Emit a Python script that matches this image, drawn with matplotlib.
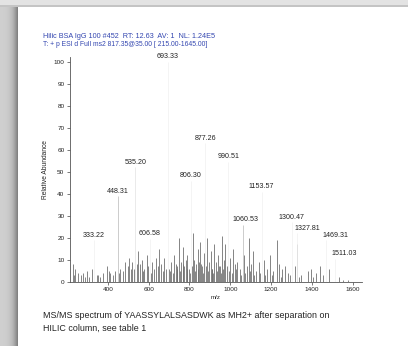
import numpy as np
import matplotlib
matplotlib.use("Agg")
import matplotlib.pyplot as plt

plt.rcParams['font.family'] = ['Liberation Sans', 'DejaVu Sans']

# labelled peaks (m/z, relative abundance)
label_mz = [333.22, 448.31, 535.20, 606.58, 693.33, 806.30, 877.26, 990.51,
            1060.53, 1153.57, 1300.47, 1327.81, 1469.31, 1511.03]
label_int = [19, 39, 52, 19.5, 100, 46, 63, 54.5, 26, 41, 27, 22, 19, 10.5]

# smaller fragment peaks
noise_mz = [228, 241, 256, 268, 280, 297, 310, 322, 345, 362, 378, 396, 412,
            425, 436, 462, 475, 486, 497, 505, 518, 527, 548, 556, 566, 578,
            590, 597, 617, 628, 638, 650, 662, 675, 684, 703, 712, 724, 733,
            741, 748, 757, 766, 774, 782, 790, 798, 815, 823, 831, 840, 848,
            852, 860, 870, 888, 896, 904, 912, 920, 930, 940, 948, 960, 968,
            975, 982, 1000, 1012, 1022, 1035, 1046, 1068, 1080, 1090, 1102,
            1112, 1125, 1140, 1165, 1180, 1195, 1210, 1228, 1240, 1255, 1270,
            1283, 1315, 1327, 1345, 1380, 1395, 1420, 1440, 1485, 1530, 1575,
            235, 289, 352, 404, 455, 512, 541, 572, 611, 645, 668, 698, 718,
            737, 752, 770, 786, 802, 811, 827, 844, 856, 865, 883, 892, 908,
            916, 935, 944, 955, 964, 995, 1006, 1028, 1052, 1074, 1096, 1118,
            1147, 1172, 1204, 1248, 1292, 1336, 1405, 1452, 1550]
noise_int = [8, 6, 4, 3, 4, 5, 2, 6, 3, 2, 4, 7, 4,
             3, 5, 6, 5, 9, 7, 11, 9, 6, 14, 8, 10, 6,
             12, 7, 9, 6, 11, 15, 8, 11, 6, 5, 9, 12, 8,
             6, 20, 9, 16, 7, 10, 12, 6, 22, 10, 8, 15, 9,
             18, 7, 13, 20, 9, 14, 6, 17, 9, 12, 7, 21, 10,
             17, 7, 11, 15, 8, 9, 6, 12, 7, 20, 8,
             14, 5, 9, 10, 6, 12, 5, 19, 8, 6, 7,
             4, 7, 17, 3, 5, 6, 4, 7, 6, 2, 1,
             3, 2, 3, 5, 4, 6, 8, 5, 4, 7, 5, 6, 4,
             7, 5, 8, 6, 4, 7, 5, 6, 8, 4, 7, 5, 6,
             4, 5, 7, 4, 6, 5, 4, 6, 3, 4, 5, 3,
             4, 3, 3, 2, 3, 2, 2, 3, 1]

header1 = "Hilic BSA IgG 100 #452  RT: 12.63  AV: 1  NL: 1.24E5"
header2 = "T: + p ESI d Full ms2 817.35@35.00 [ 215.00-1645.00]"
caption = ("MS/MS spectrum of YAASSYLALSASDWK as MH2+ after separation on\n"
           "HILIC column, see table 1")

W, H = 408, 346
fig = plt.figure(figsize=(W / 100, H / 100), dpi=100)
fig.patch.set_facecolor('#dedede')

# page background and shadow
bg = fig.add_axes([0, 0, 1, 1], zorder=-5)
bg.set_xlim(0, W)
bg.set_ylim(H, 0)
bg.axis('off')
grad = np.linspace(0, 1, 64)[None, :] ** 3
bg.imshow(grad, extent=(0, 18, H, 0), cmap='Greys', vmin=-1.0, vmax=2.4,
          aspect='auto', interpolation='bilinear')
bg.add_patch(plt.Rectangle((0, 0), W, 5, color='#e3e3e3', lw=0))
bg.add_patch(plt.Rectangle((0, 5), W, 2, color='#c4c4c4', lw=0))
bg.add_patch(plt.Rectangle((18, 7), W - 18, H - 7, color='white', lw=0))

ax = fig.add_axes([70 / W, (H - 281.7) / H, 292 / W, 224.4 / H])
ax.set_facecolor('none')
ax.vlines(noise_mz, 0, noise_int, color='#707070', lw=0.6)
# most of the big peaks are washed out in the reference
faint = {448.31: '#c4c4c4', 1060.53: '#c4c4c4', 535.20: '#e6e6e6'}
ax.vlines(label_mz, 0, label_int, lw=0.6,
          colors=[faint.get(m, '#f3f3f3') for m in label_mz])

dx = {1060.53: 2, 1327.81: 7, 1469.31: 7, 1511.03: 7}
for m, v in zip(label_mz, label_int):
    ax.annotate(f"{m:.2f}", (m, v), xytext=(dx.get(m, 0), 1.0),
                textcoords='offset points', ha='center', va='bottom',
                fontsize=5.1, color='#222222')

ax.set_xlim(215, 1645)
ax.set_ylim(0, 102)
ax.set_xticks([400, 600, 800, 1000, 1200, 1400, 1600])
ax.set_yticks(range(0, 101, 10))
ax.tick_params(labelsize=4.6, length=2, width=0.5, pad=2, colors='#444444',
               labelcolor='#222222')
for s in ['top', 'right']:
    ax.spines[s].set_visible(False)
for s in ['left', 'bottom']:
    ax.spines[s].set_linewidth(0.6)
    ax.spines[s].set_color('#555555')
ax.set_xlabel('m/z', fontsize=4.4, labelpad=2, color='#222222')
ax.set_ylabel('Relative Abundance', fontsize=4.8, labelpad=3, color='#222222')

fig.text(43 / W, 1 - 36 / H, header1, fontsize=5.2, color='#3346b0',
         va='center', ha='left')
fig.text(43 / W, 1 - 44 / H, header2, fontsize=4.9, color='#3346b0',
         va='center', ha='left')
fig.text(43 / W, 1 - 322 / H, caption, fontsize=6.4, color='#222222',
         va='center', ha='left', linespacing=1.45)

fig.savefig('out.png', dpi=100)
